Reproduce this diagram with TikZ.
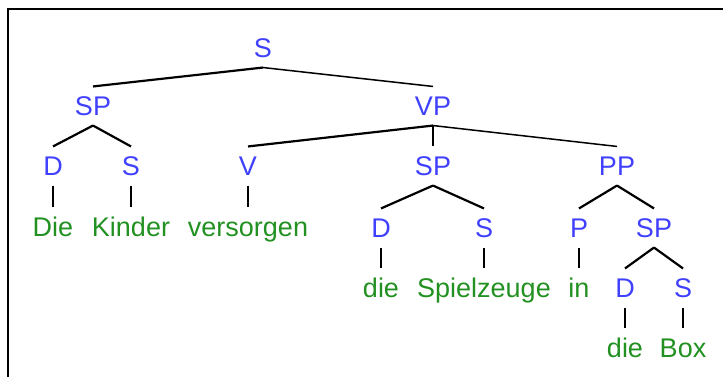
\documentclass[tikz,border=0pt]{standalone}
\usepackage{fontspec}
\setmainfont{Liberation Sans}
\definecolor{catblue}{RGB}{64,64,255}
\definecolor{wordgreen}{RGB}{34,145,34}
\begin{document}
\begin{tikzpicture}[x=1pt,y=-1pt,
  lbl/.style={font=\fontsize{27}{31}\selectfont, text height=19.3pt, text depth=0pt,
    inner xsep=2pt, inner ysep=9.7pt, anchor=center},
  cat/.style={lbl, text=catblue},
  word/.style={lbl, text=wordgreen},
  br/.style={draw=black, line width=2.2pt},
  brthin/.style={draw=black, line width=1.5pt},
  vline/.style={draw=black, line width=1.4pt}]
\useasboundingbox (0,0) rectangle (723,377);
\draw[line width=2.6pt] (8,377) -- (8,9) -- (723,9);
% categories
\node[cat] (s0) at (263,48) {S};
\node[cat] (sp1) at (93,106) {SP};
\node[cat] (vp) at (433,106) {VP};
\node[cat] (d1) at (53,166) {D};
\node[cat] (s1) at (131,166) {S};
\node[cat] (v) at (248,166) {V};
\node[cat] (sp2) at (433,166) {SP};
\node[cat] (pp) at (617,166) {PP};
\node[cat] (d2) at (381,228) {D};
\node[cat] (s2) at (484,228) {S};
\node[cat] (p) at (579,228) {P};
\node[cat] (sp3) at (654,228) {SP};
\node[cat] (d3) at (625,288) {D};
\node[cat] (s3) at (683,288) {S};
% words
\node[word] (w1) at (53,227) {Die};
\node[word] (w2) at (131,227) {Kinder};
\node[word] (w3) at (248,227) {versorgen};
\node[word] (w4) at (381,288) {die};
\node[word] (w5) at (484,288) {Spielzeuge};
\node[word] (w6) at (579,288) {in};
\node[word] (w7) at (625,348) {die};
\node[word] (w8) at (683,348) {Box};
% branches
\draw[br] (s0.south) -- (sp1.north);
\draw[brthin] (s0.south) -- (vp.north);
\draw[br] (sp1.south) -- (d1.north);
\draw[br] (sp1.south) -- (s1.north);
\draw[br] (vp.south) -- (v.north);
\draw[vline] (vp.south) -- (sp2.north);
\draw[brthin] (vp.south) -- (pp.north);
\draw[br] (sp2.south) -- (d2.north);
\draw[br] (sp2.south) -- (s2.north);
\draw[br] (pp.south) -- (p.north);
\draw[br] (pp.south) -- (sp3.north);
\draw[br] (sp3.south) -- (d3.north);
\draw[br] (sp3.south) -- (s3.north);
% terminals
\draw[vline] (d1.south) -- (w1.north);
\draw[vline] (s1.south) -- (w2.north);
\draw[vline] (v.south) -- (w3.north);
\draw[vline] (d2.south) -- (w4.north);
\draw[vline] (s2.south) -- (w5.north);
\draw[vline] (p.south) -- (w6.north);
\draw[vline] (d3.south) -- (w7.north);
\draw[vline] (s3.south) -- (w8.north);
\end{tikzpicture}
\end{document}
